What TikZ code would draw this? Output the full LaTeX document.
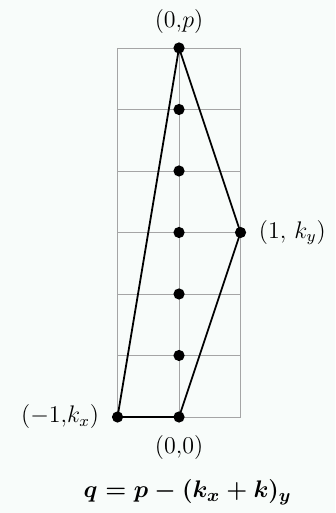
\documentclass[tikz,border=0pt]{standalone}
\usepackage{amsmath}
\usepackage{amsfonts}
\usepackage{xcolor}
\usepackage{tikz}
\usetikzlibrary{positioning}
\definecolor{paper}{RGB}{248, 252, 250}
\definecolor{gridgray}{RGB}{165, 165, 165}

\begin{document}
\begin{tikzpicture}[
    x=30.75pt, y=30.75pt,
    node distance=2pt,
    every node/.style={font=\large},
    dot/.style={circle, fill=black, inner sep=0pt, minimum size=5.6pt},
    gridline/.style={draw=gridgray, line width=0.45pt},
    edge/.style={draw=black, line width=0.9pt},
    ptlabel/.style={inner sep=4pt},
    formula/.style={font=\fontsize{12.5}{15}\selectfont\boldmath}
]
    % Canvas
    \fill[paper] (-2.911,-1.561) rectangle (2.537,6.780);
    \useasboundingbox (-2.911,-1.561) rectangle (2.537,6.780);

    % Grid
    \foreach \r in {0,...,6}
        \draw[gridline] (-1,\r) -- (1,\r);
    \foreach \c in {-1,0,1}
        \draw[gridline] (\c,0) -- (\c,6);

    % Lattice points
    \node[dot] (origin) at (0,0) {};
    \node[dot] (top) at (0,6) {};
    \node[dot] (kx) at (-1,0) {};
    \node[dot] (ky) at (1,3) {};
    \foreach \i in {1,...,5}
        \node[dot] (mid\i) at (0,\i) {};

    % Polygon
    \draw[edge] (kx.center) -- (origin.center) -- (ky.center) -- (top.center) -- (kx.center);

    % Labels
    \node[ptlabel, above=0pt of top] (toplbl) {$(0{,}p)$};
    \node[ptlabel, right=2pt of ky] (kylbl) {$(1,\, k_y)$};
    \node[ptlabel, left=2pt of kx] (kxlbl) {$(-1{,}k_x)$};
    \node[ptlabel, below=2pt of origin] (originlbl) {$(0{,}0)$};

    % Formula
    \node[formula, anchor=base] (eq) at (0.14,-1.317) {$q = p - (k_x + k)_y$};

\end{tikzpicture}
\end{document}
